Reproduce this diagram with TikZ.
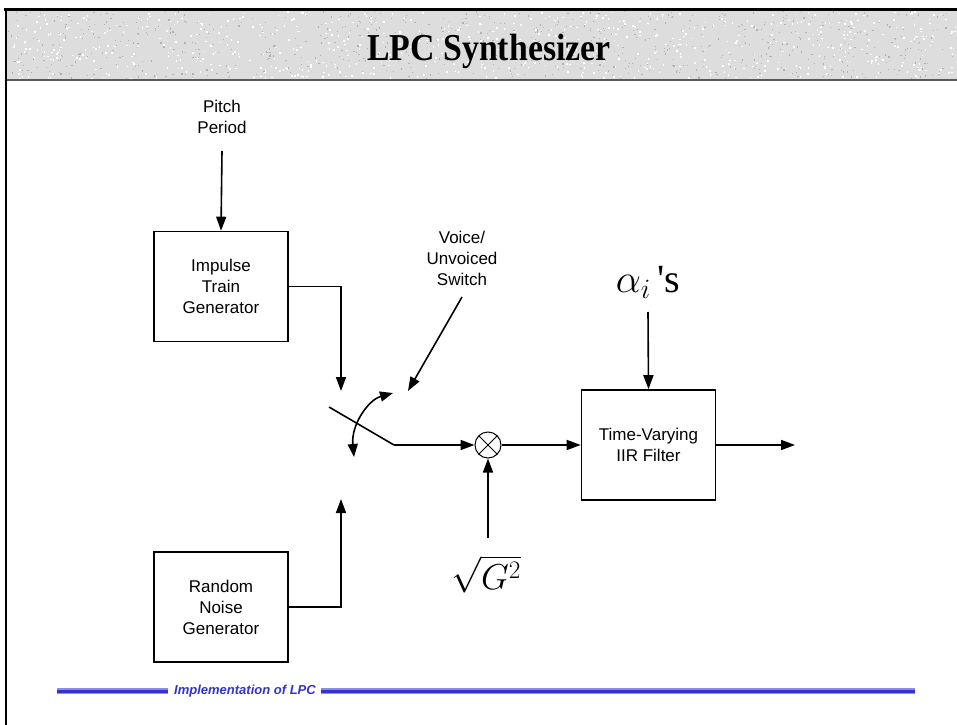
\RequirePackage{fix-cm}
\documentclass[tikz,border=0pt]{standalone}
\usepackage{fontspec}
\setmainfont{Liberation Sans}
\newfontfamily\tnr{Liberation Serif}
\newfontfamily\tnrq[Ligatures=TeXOff]{Liberation Serif}
\usetikzlibrary{arrows.meta}
\definecolor{footblue}{RGB}{51,51,204}
\definecolor{footlight}{RGB}{140,140,230}
\definecolor{headgray}{RGB}{221,221,221}
\begin{document}
\begin{tikzpicture}[x=1bp,y=-1bp,
  arr/.style={-{Triangle[length=14bp,width=10bp]}},
  wire/.style={line width=1.6bp},
  blk/.style={draw,line width=1.6bp,minimum width=134bp,minimum height=110bp,align=center,font=\fontsize{17bp}{21bp}\selectfont,inner sep=0pt},
  lbl/.style={align=center,font=\fontsize{17bp}{21bp}\selectfont,inner sep=0pt},
  footline/.style={line width=3bp,footblue,preaction={draw,line width=5.5bp,footlight}},
]
\useasboundingbox (0,0) rectangle (957,725);
\fill[white] (0,0) rectangle (957,725);
% header band
\fill[headgray] (6,10) rectangle (957,80);
\pgfmathsetseed{12}
\foreach \k in {1,...,700}{
  \pgfmathsetmacro\rx{7+948*rnd}\pgfmathsetmacro\ry{11+67*rnd}
  \fill[white] (\rx,\ry) rectangle ++(1.6,1.6);
}
\foreach \k in {1,...,700}{
  \pgfmathsetmacro\rx{7+948*rnd}\pgfmathsetmacro\ry{11+67*rnd}
  \fill[gray!60] (\rx,\ry) rectangle ++(1.2,1.2);
}
\draw[line width=2bp,gray!70!black] (6,80) -- (957,80);
\draw[line width=3.5bp] (4,9.5) -- (957,9.5);
\draw[line width=2.5bp] (6,8) -- (6,725);
% title
\node[anchor=base,inner sep=0pt] (title) at (489,61) {\scalebox{0.89}[1]{\tnr\bfseries\fontsize{38bp}{40bp}\selectfont LPC Synthesizer}};
% blocks
\node[lbl] (pitch) at (222,117) {Pitch\\Period};
\node[blk] (imp) at (221,286.5) {Impulse\\Train\\Generator};
\node[blk] (rnd) at (221,607) {Random\\Noise\\Generator};
\node[lbl] (voice) at (462,258) {Voice/\\Unvoiced\\Switch};
\node[draw,circle,line width=1bp,minimum size=26bp,inner sep=0pt,
  path picture={\draw[line width=1bp] (path picture bounding box.north west) -- (path picture bounding box.south east) (path picture bounding box.north east) -- (path picture bounding box.south west);}] (mult) at (488,445) {};
\node[blk] (filt) at (648.5,445) {Time-Varying\\IIR Filter};
\node[anchor=base,inner sep=0pt] (alpha) at (648,292) {\fontsize{40bp}{40bp}\selectfont$\alpha_i$\,{\tnrq'}{\tnr s}};
\node[inner sep=0pt] (gain) at (486,574) {\fontsize{36bp}{36bp}\selectfont$\sqrt{G^2}$};
% coordinates
\coordinate (pitchout) at (222,151);
\coordinate (swin1) at (341,391);
\coordinate (swin2) at (341,499);
\coordinate (vfrom) at (462,297);
\coordinate (vtip) at (408,391);
\coordinate (swA) at (329,407);
\coordinate (swB) at (394,445);
\coordinate (cA) at (354,457);
\coordinate (cB) at (393,393);
\coordinate (atop) at (648,312);
\coordinate (gtop) at (488,538);
\coordinate (out) at (795,445);
% connectors
\draw[wire,arr] (pitchout) -- (imp.north);
\draw[wire,arr] (imp.east) -| (swin1);
\draw[wire,arr] (rnd.east) -| (swin2);
\draw[wire,arr] (vfrom) -- (vtip);
\draw[wire] (swA) -- (swB);
\draw[wire,arr] (swB) -- (mult.west);
\draw[wire,{Triangle[length=13bp,width=10bp]}-{Triangle[length=13bp,width=10bp]}] (cA) .. controls (351,425) and (368,400) .. (cB);
\draw[wire,arr] (mult.east) -- (filt.west);
\draw[wire,arr] (filt.east) -- (out);
\draw[wire,arr] (atop) -- (filt.north);
\draw[wire,arr] (gtop) -- (mult.south);
% footer
\node[font=\bfseries\itshape\fontsize{13bp}{15bp}\selectfont,text=footblue,inner sep=0pt] (foot) at (245,691) {Implementation of LPC};
\coordinate (fl) at (57,691);
\coordinate (fr) at (915,691);
\draw[footline] (fl) -- ([xshift=-6bp]foot.west);
\draw[footline] ([xshift=5bp]foot.east) -- (fr);
\end{tikzpicture}
\end{document}
